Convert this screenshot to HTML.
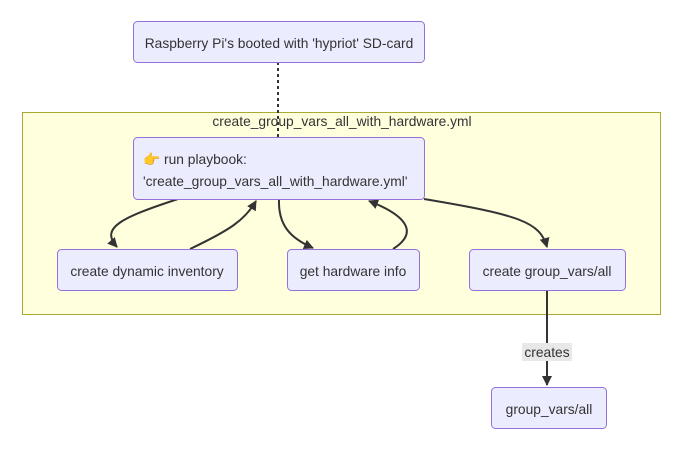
<!DOCTYPE html>
<html><head><style>body{margin:0;background:#fff}svg{display:block;font-family:"Liberation Sans",sans-serif}</style></head><body>
<svg width="686" height="453" viewBox="0 0 686 453" xmlns="http://www.w3.org/2000/svg">
<defs><marker id="a" viewBox="0 0 10 10" refX="9" refY="5" markerWidth="5" markerHeight="5" orient="auto"><path d="M0,0L10,5L0,10z" fill="#333"/></marker></defs>
<rect x="22.5" y="112.5" width="638" height="202" fill="#ffffde" stroke="#aaaa33"/>
<text x="342" y="126" text-anchor="middle" font-size="13.8" fill="#333">create_group_vars_all_with_hardware.yml</text>
<line x1="278" y1="62" x2="278" y2="137" stroke="#333" stroke-width="2" stroke-dasharray="3,3"/>
<g fill="none" stroke="#333" stroke-width="2">
<path d="M178,199 C120,218 100,228 117,247" marker-end="url(#a)"/>
<path d="M190,249 C230,230 245,220 256,201" marker-end="url(#a)"/>
<path d="M279,199 C278,225 290,238 313,248" marker-end="url(#a)"/>
<path d="M393,249 C420,232 405,215 369,201" marker-end="url(#a)"/>
<path d="M424,199 C520,215 540,222 547,247" marker-end="url(#a)"/>
<path d="M547,290 L547,385" marker-end="url(#a)"/>
</g>
<g fill="#ececff" stroke="#9370db">
<rect x="133.5" y="21.5" width="291" height="41" rx="4"/>
<rect x="133.5" y="137.5" width="291" height="62" rx="4"/>
<rect x="57.5" y="249.5" width="180" height="41" rx="4"/>
<rect x="287.5" y="249.5" width="132" height="41" rx="4"/>
<rect x="469.5" y="249.5" width="156" height="41" rx="4"/>
<rect x="491.5" y="387.5" width="115" height="41" rx="4"/>
</g>
<rect x="522" y="343" width="50" height="18" fill="#e8e8e8"/>
<g font-size="13.8" fill="#333" text-anchor="middle">
<text x="279" y="48">Raspberry Pi's booted with 'hypriot' SD-card</text>
<text x="143" y="164" text-anchor="start">👉 run playbook:</text>
<text x="143" y="186" text-anchor="start">'create_group_vars_all_with_hardware.yml'</text>
<text x="147" y="276">create dynamic inventory</text>
<text x="353" y="276">get hardware info</text>
<text x="547" y="276">create group_vars/all</text>
<text x="549" y="414">group_vars/all</text>
<text x="547" y="357">creates</text>
</g>
</svg>
</body></html>
